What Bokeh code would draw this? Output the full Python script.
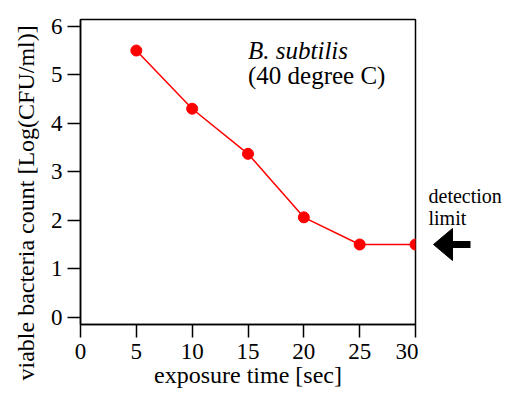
from bokeh.plotting import figure
from bokeh.layouts import row
from bokeh.models import Range1d, FixedTicker, Label, Title
from bokeh.embed import file_html
from bokeh.resources import INLINE

# data
exposure_time = [5, 10, 15, 20, 25, 30]
log_cfu = [5.5, 4.3, 3.37, 2.06, 1.5, 1.5]
detection_limit = 1.5
x_ticks = [0, 5, 10, 15, 20, 25, 30]
y_ticks = [0, 1, 2, 3, 4, 5, 6]

FONT = "Liberation Serif"
H = 395
TOP = 19
FRAME_H = 305
BOTTOM = H - TOP - FRAME_H
MAIN_W = 418
RIGHT_W = 84
Y0, Y1 = -0.15, 6.14
PX = (Y1 - Y0) / FRAME_H  # data units per pixel, vertical

yr = Range1d(Y0, Y1)
p = figure(width=MAIN_W, height=H, output_backend="svg", toolbar_location=None,
           x_range=Range1d(0, 30), y_range=yr,
           min_border_left=80, min_border_right=3, min_border_top=TOP, min_border_bottom=BOTTOM)
p.xgrid.visible = False
p.ygrid.visible = False
p.outline_line_color = "black"
p.outline_line_width = 1.5
p.background_fill_color = "white"
p.border_fill_color = "white"

for ax in (p.xaxis[0], p.yaxis[0]):
    ax.axis_line_width = 1.5
    ax.major_tick_line_width = 1.5
    ax.major_tick_out = 13
    ax.major_tick_in = 0
    ax.minor_tick_out = 0
    ax.minor_tick_in = 0
    ax.major_label_text_font = FONT
    ax.major_label_text_font_size = "23px"
    ax.major_label_text_color = "black"
    ax.axis_label_text_font = FONT
    ax.axis_label_text_font_size = "24px"
    ax.axis_label_text_font_style = "normal"
    ax.axis_label_text_color = "black"

p.xaxis.ticker = FixedTicker(ticks=x_ticks)
p.yaxis.ticker = FixedTicker(ticks=y_ticks)
p.xaxis.axis_label = "exposure time [sec]"
p.xaxis.major_label_standoff = 6
p.yaxis.major_label_standoff = 5
p.xaxis.axis_label_standoff = 0

ytitle = Title(text="viable bacteria count [Log(CFU/ml)]", align="left", offset=-56,
               text_font=FONT, text_font_size="24px", text_font_style="normal",
               text_color="black", standoff=18)
p.add_layout(ytitle, "left")

p.line(exposure_time, log_cfu, line_color="red", line_width=1.5)
p.scatter(exposure_time, log_cfu, size=11, fill_color="red", line_color="red")

p.add_layout(Label(x=15, y=5.50, text="B. subtilis", text_font=FONT, text_font_size="25px",
                   text_font_style="italic", text_color="black", text_baseline="alphabetic"))
p.add_layout(Label(x=15, y=4.99, text="(40 degree C)", text_font=FONT, text_font_size="25px",
                   text_color="black", text_baseline="alphabetic"))

# right panel: detection limit note (x in pixels from the panel's left edge)
q = figure(width=RIGHT_W, height=H, output_backend="svg", toolbar_location=None,
           x_range=Range1d(0, RIGHT_W), y_range=Range1d(Y0, Y1),
           x_axis_type=None, y_axis_type=None,
           min_border_left=0, min_border_right=0, min_border_top=TOP, min_border_bottom=BOTTOM)
q.grid.visible = False
q.outline_line_color = None
q.background_fill_color = "white"
q.border_fill_color = "white"
q.add_layout(Label(x=10, y=2.49, text="detection", text_font=FONT, text_font_size="20px",
                   text_color="black", text_baseline="alphabetic"))
q.add_layout(Label(x=10, y=2.04, text="limit", text_font=FONT, text_font_size="20px",
                   text_color="black", text_baseline="alphabetic"))

tip, head_len, head_half, tail = 15, 19, 16, 52
q.segment(x0=[tip + head_len - 2], y0=[detection_limit], x1=[tail], y1=[detection_limit],
          line_width=7, line_color="black")
q.patch(x=[tip, tip + head_len, tip + head_len],
        y=[detection_limit, detection_limit + head_half * PX, detection_limit - head_half * PX],
        fill_color="black", line_color="black", line_width=1)

layout = row(p, q)
open("out.html", "w").write(file_html(layout, INLINE))
